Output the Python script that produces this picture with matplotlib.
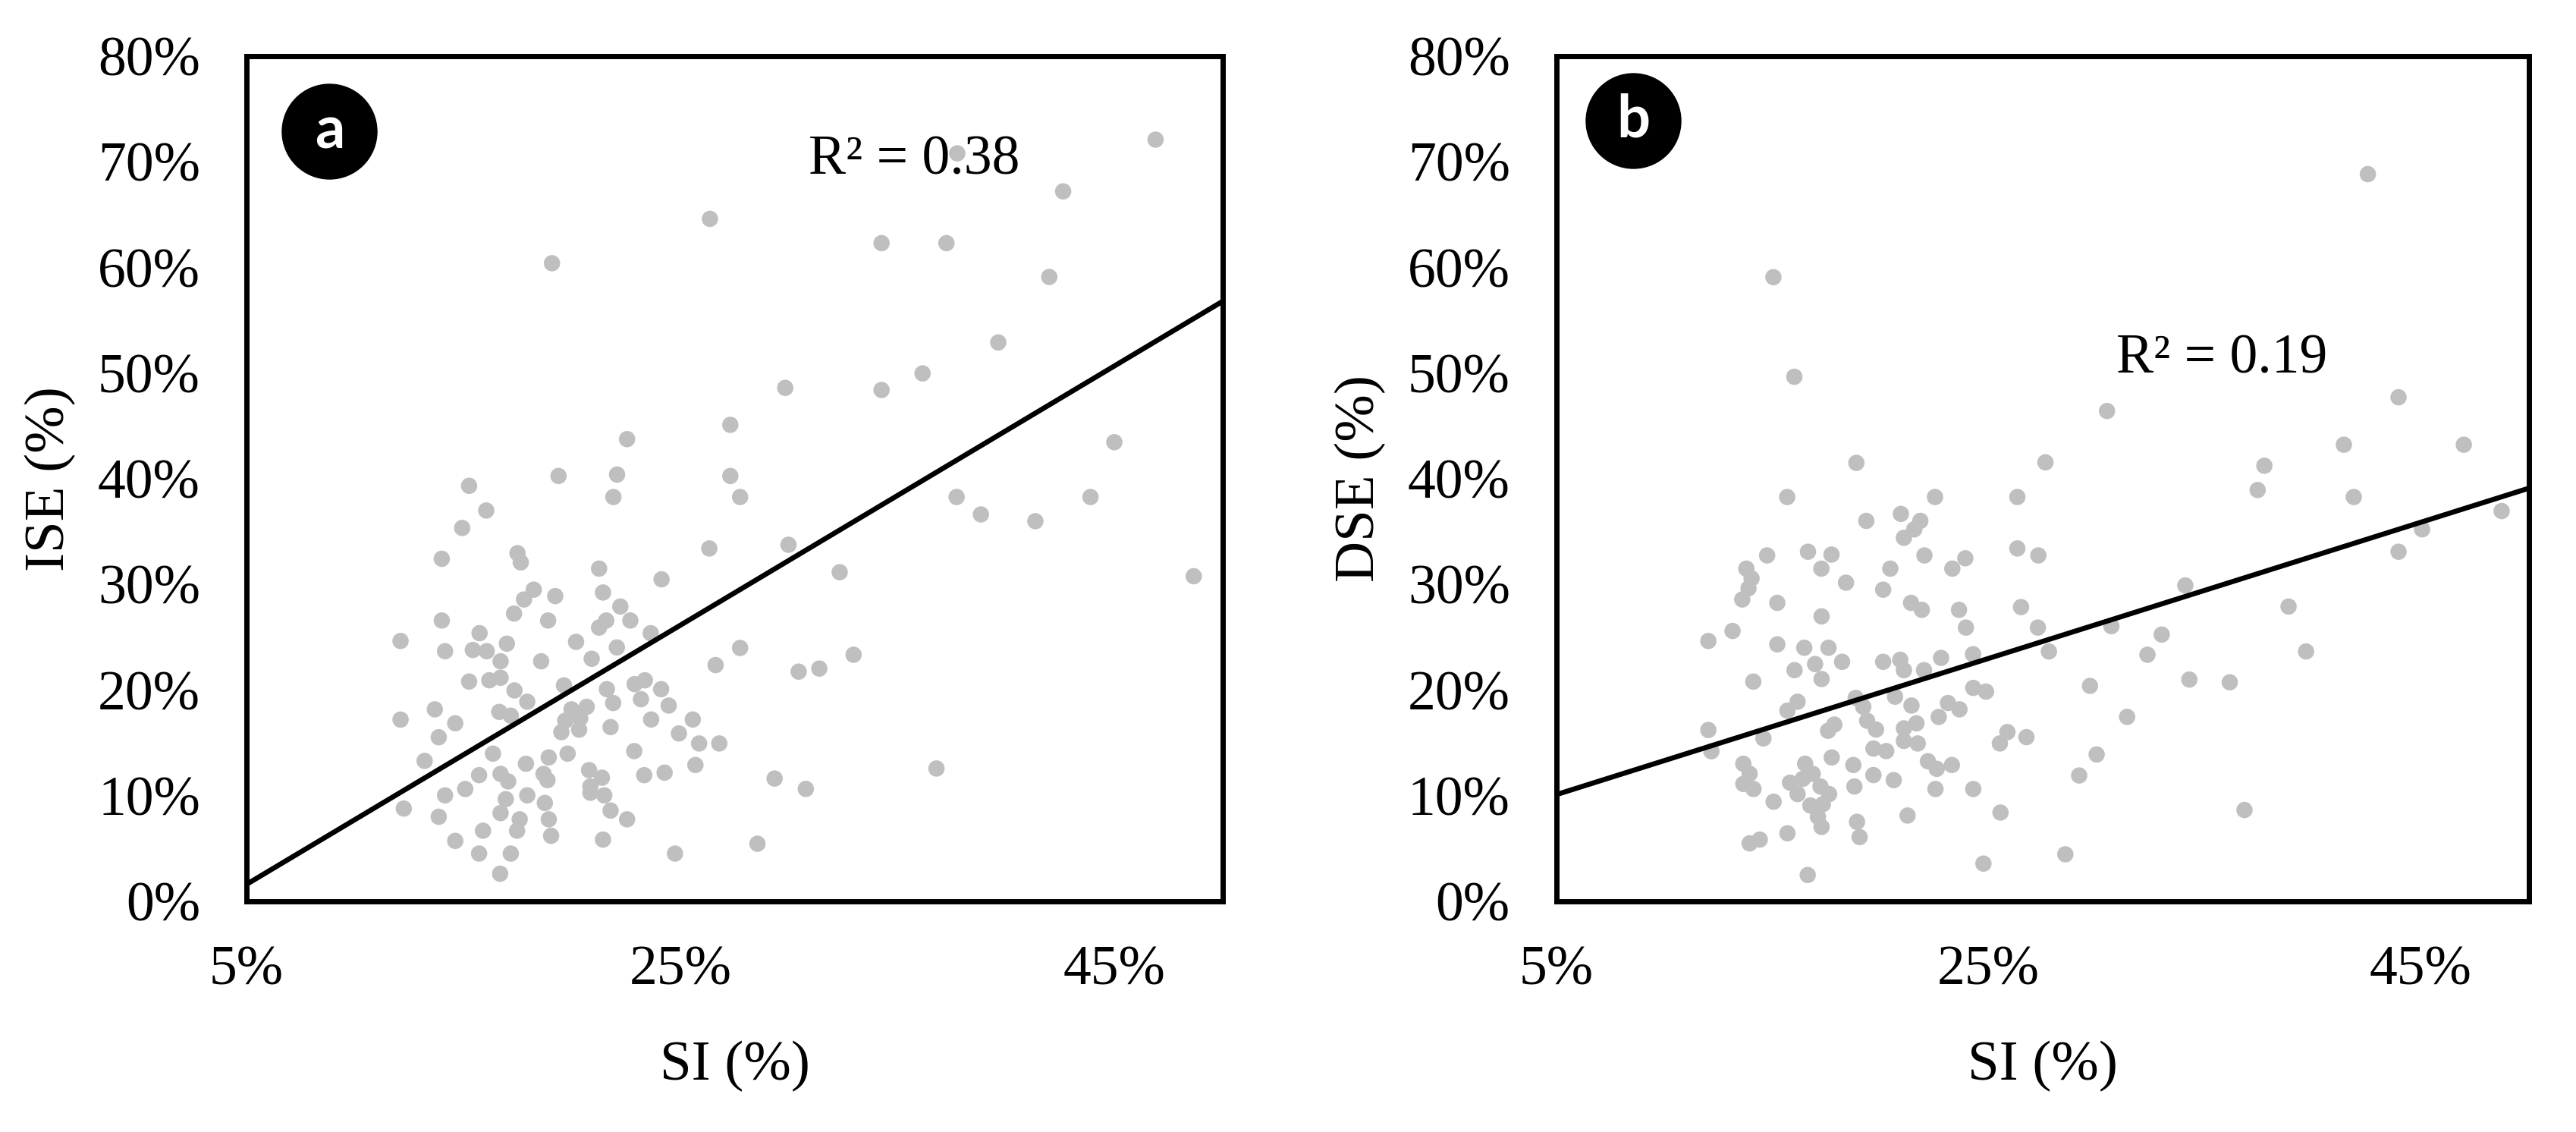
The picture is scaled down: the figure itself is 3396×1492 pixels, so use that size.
import numpy as np
import matplotlib
matplotlib.use("Agg")
from matplotlib import pyplot as plt
from matplotlib.ticker import PercentFormatter

plt.rcParams['font.family'] = ['Liberation Serif', 'DejaVu Serif']

# SI (%) vs ISE (%) - panel a
si_a = [26.36, 19.08, 27.3, 22.54,
        46.9, 37.76, 42.64, 34.27, 37.26, 42.0, 39.65, 36.16, 29.83, 34.27, 45.0,
        37.73, 38.85, 41.36, 43.9, 29.98, 32.34, 48.66, 32.98, 30.45, 31.4, 36.8, 29.34, 30.78, 28.55,
        19.38, 22.08, 27.3, 15.26, 21.91, 27.75, 16.05, 14.94, 26.33, 14.0, 17.49, 17.64, 21.25, 24.13,
        18.24, 17.79, 19.23, 21.43, 22.23, 17.33, 14.0, 18.9, 21.25, 21.58, 22.69, 23.63, 15.74, 12.1,
        12.1, 13.21, 12.25, 27.75,
        14.15, 15.43, 16.07, 17.0, 16.71, 18.58, 20.19, 22.07, 20.91, 26.62, 15.26, 16.19, 16.71, 17.35,
        17.94, 19.63, 21.61, 21.9, 22.89, 23.36, 23.18, 24.11, 24.46, 13.68, 14.62, 13.86, 16.65, 17.18,
        19.98, 20.68, 19.69, 20.38, 19.51, 20.33, 21.78, 23.65, 25.57, 24.93, 25.86, 26.79, 25.69, 22.87,
        23.33, 24.27, 16.36, 18.93, 19.8, 17.88, 15.72, 16.71, 17.06, 18.69, 18.87, 20.79, 21.38, 14.15,
        15.08, 13.86, 16.95, 17.94, 18.75, 20.85, 20.85, 21.49, 21.78, 22.54, 16.71, 17.59, 17.47, 18.93,
        19.04, 15.9, 14.62, 21.43, 15.72, 17.18, 24.75, 16.69]
ise = [64.6, 60.4, 45.1, 43.75,
       72.1, 70.8, 67.2, 62.3, 62.3, 59.1, 52.9, 49.97, 48.6, 48.4, 43.46,
       38.27, 36.62, 35.98, 38.27, 33.75, 31.15, 30.77, 23.34, 21.74, 22.03, 12.57, 11.62, 10.64, 5.45,
       40.26, 40.39, 40.26, 39.33, 38.27, 38.27, 36.99, 35.34, 33.4, 32.42, 32.95, 32.08, 31.49, 30.48,
       29.5, 28.57, 28.89, 29.23, 27.9, 27.24, 26.58, 26.58, 25.91, 26.58, 26.58, 25.38, 25.38, 24.64,
       17.2, 13.29, 8.78, 23.98,
       23.67, 23.79, 23.67, 24.39, 22.72, 22.72, 24.56, 24.03, 22.96, 22.36, 20.8, 20.92, 21.16, 19.96,
       18.89, 20.44, 20.08, 18.77, 20.56, 20.92, 19.13, 20.08, 18.53, 18.17, 16.85, 15.53, 17.93, 17.57,
       18.17, 18.41, 17.09, 17.33, 16.01, 16.25, 16.49, 17.21, 17.21, 15.89, 14.94, 14.94, 12.9, 14.22,
       11.94, 12.18, 13.98, 13.62, 13.98, 13.02, 11.94, 12.06, 11.35, 12.06, 11.47, 12.42, 11.7, 10.03,
       10.63, 8.0, 9.67, 10.03, 9.31, 10.87, 10.27, 10.03, 8.59, 7.76, 8.35, 7.76, 6.68, 7.76,
       6.2, 6.68, 5.72, 5.84, 4.52, 4.52, 4.52, 2.61]

# SI (%) vs DSE (%) - panel b
si_b = [15.04, 16.01, 18.88,
        42.55, 43.97, 30.48, 41.44, 46.99, 27.63, 37.76,
        15.68, 22.52, 26.33, 19.34, 20.94, 21.84, 21.56, 21.08, 14.75, 16.64, 17.73, 17.26, 22.03, 20.45,
        23.92, 23.32, 26.33, 13.79, 14.03, 13.89, 13.6, 18.4, 20.12, 15.22, 21.41, 21.91, 23.63, 23.95,
        26.5, 17.27, 13.15, 12.03, 15.22, 16.47, 17.59, 18.22, 16.97, 20.12, 20.91, 22.8, 24.28, 12.03, 12.17,
        14.11, 16.02, 17.27, 21.08, 22.01, 16.16, 15.69, 14.58, 18.85, 19.2, 20.67, 21.43, 24.29, 24.88,
        23.12, 23.65, 22.69, 17.86, 17.57, 19.38, 19.79, 21.08, 21.66, 21.08, 21.72, 19.67, 20.26, 25.87,
        25.52, 26.75, 13.65, 13.94, 13.65, 14.12, 16.51, 17.74, 18.74, 19.67, 20.61, 22.19, 22.6, 23.3,
        22.54, 24.29, 15.81, 16.4, 16.86, 16.16, 17.22, 17.62, 16.75, 17.33, 17.1, 17.27, 18.79, 18.91,
        19.03, 15.05, 15.69, 13.94, 14.41, 21.25, 25.55, 24.76, 16.63,
        37.45, 41.9, 48.74, 45.06, 43.97, 27.3, 34.1, 38.88, 27.28, 30.68, 33.01, 27.79, 32.35, 39.69,
        34.29, 36.16, 29.69, 31.41, 30.0, 29.19, 36.84, 28.55]
dse = [59.08, 49.65, 41.5,
       68.83, 47.71, 46.41, 43.22, 43.22, 41.55, 41.23,
       38.27, 38.27, 38.27, 36.01, 36.67, 36.01, 35.21, 34.41, 32.74, 33.09, 32.82, 31.49, 32.74, 31.49,
       32.47, 31.49, 33.4, 31.49, 30.56, 29.63, 28.57, 30.16, 29.5, 28.25, 28.25, 27.59, 27.59, 25.91,
       27.85, 26.97, 25.59, 24.64, 24.32, 24.0, 24.0, 22.67, 22.46, 22.67, 22.86, 23.04, 23.39, 16.22, 14.2,
       20.8, 21.88, 21.04, 21.88, 21.88, 18.89, 18.05, 15.42, 19.25, 18.41, 19.37, 18.53, 20.2, 19.85,
       18.77, 18.17, 17.45, 16.73, 16.14, 17.09, 16.26, 16.37, 16.85, 15.18, 14.94, 14.46, 14.22, 16.02,
       14.94, 15.54, 13.02, 12.07, 11.11, 10.63, 13.02, 13.62, 12.9, 11.95, 11.47, 13.26, 12.54, 12.9,
       10.63, 10.63, 11.23, 11.59, 12.07, 10.15, 10.87, 10.15, 9.07, 9.19, 8.0, 7.04, 10.87, 7.52,
       6.08, 9.43, 6.44, 5.48, 5.84, 8.12, 8.4, 3.57, 2.49,
       38.93, 38.27, 36.94, 35.21, 33.09, 32.74, 29.9, 27.9, 25.91, 26.04, 25.25, 23.65, 23.34, 23.65,
       20.99, 20.73, 20.39, 17.46, 13.9, 11.91, 8.64, 4.45]

# linear trendlines (slope, intercept)
trend_a = (1.2267, -4.53)
trend_b = (0.6444, 6.88)
r2_a = "R\u00b2 = 0.38"
r2_b = "R\u00b2 = 0.19"

x_ticks = [5, 25, 45]
y_ticks = list(range(0, 81, 10))

fig = plt.figure(figsize=(33.96, 14.92), dpi=100)
ax_a = fig.add_axes([0.0957, 0.2038, 0.379, 0.7466])
ax_b = fig.add_axes([0.6042, 0.2038, 0.3775, 0.7466])

panels = [
	(ax_a, si_a, ise, trend_a, r2_a, (30.9, 70.1), 'a', (0.085, 0.911), 'ISE (%)'),
	(ax_b, si_b, dse, trend_b, r2_b, (30.9, 51.3), 'b', (0.079, 0.924), 'DSE (%)'),
]

for ax, xs, ys, trend, r2, r2pos, tag, tagpos, ylab in panels:
	ax.scatter(xs, ys, s=240, color='#BFBFBF', edgecolors='none', zorder=2)
	lx = np.array([5, 50])
	ax.plot(lx, trend[0] * lx + trend[1], color='black', lw=4.8, zorder=3, solid_capstyle='butt')
	ax.text(r2pos[0], r2pos[1], r2, fontsize=53, va='center', ha='left', zorder=4)
	ax.plot([tagpos[0]], [tagpos[1]], 'o', ms=90, color='black', transform=ax.transAxes, zorder=5)
	ax.text(tagpos[0], tagpos[1], tag, transform=ax.transAxes, color='white', fontsize=56,
	        fontweight='bold', family=['Lato', 'DejaVu Sans'], ha='center', va='center', zorder=6)
	ax.set_xlim(5, 50)
	ax.set_ylim(0, 80)
	ax.set_xticks(x_ticks)
	ax.set_yticks(y_ticks)
	ax.xaxis.set_major_formatter(PercentFormatter(decimals=0))
	ax.yaxis.set_major_formatter(PercentFormatter(decimals=0))
	ax.tick_params(length=0, labelsize=53)
	ax.tick_params(axis='x', pad=42)
	ax.tick_params(axis='y', pad=44)
	for sp in ax.spines.values():
		sp.set_linewidth(5)
		sp.set_color('black')
	ax.set_xlabel('SI (%)', fontsize=54)
	ax.set_ylabel(ylab, fontsize=54)
	ax.xaxis.set_label_coords(0.5, -0.165)
	ax.yaxis.set_label_coords(-0.175, 0.5)

fig.savefig('out.png', dpi=100)
